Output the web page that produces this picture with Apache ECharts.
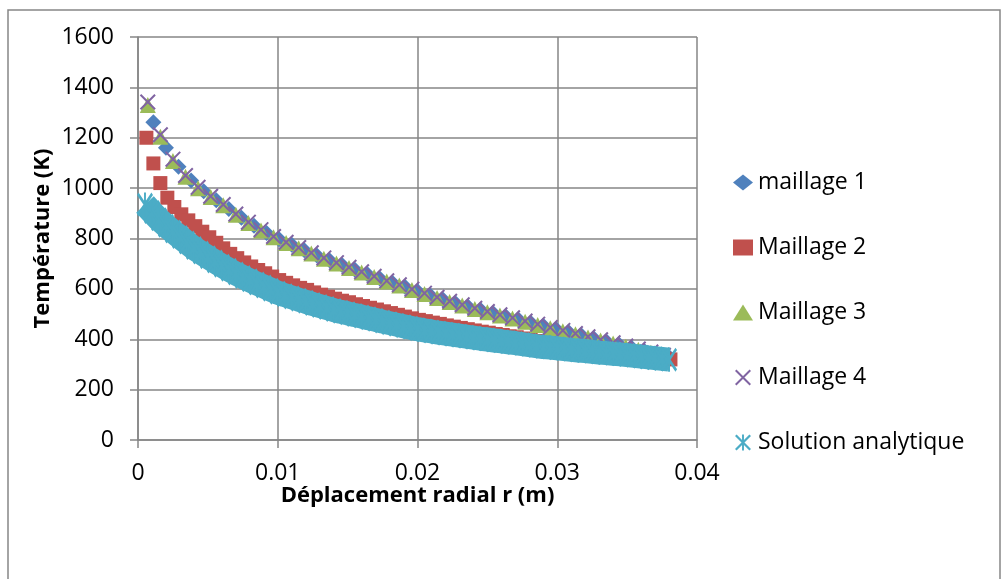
<!DOCTYPE html>
<html>
<head>
<meta charset="utf-8">
<script src="https://cdn.jsdelivr.net/npm/echarts/dist/echarts.min.js"></script>
<style>
html,body{margin:0;padding:0;background:#fff;}
#chart{width:1004px;height:579px;}
</style>
</head>
<body>
<div id="chart"></div>
<script>
// ---- data ----
const seriesNames = ['maillage 1', 'Maillage 2', 'Maillage 3', 'Maillage 4', 'Solution analytique'];
const xTickLabels = ['0', '0.01', '0.02', '0.03', '0.04'];
const yTickLabels = ['0', '200', '400', '600', '800', '1000', '1200', '1400', '1600'];

const rMaillage1 = [0.0011,0.0020,0.0029,0.0038,0.0047,0.0056,0.0065,0.0074,0.0083,0.0092,0.0101,0.0110,0.0119,0.0128,0.0137,0.0146,0.0155,0.0164,0.0173,0.0182,0.0191,0.0200,0.0209,0.0218,0.0227,0.0236,0.0245,0.0254,0.0263,0.0272,0.0281,0.0290,0.0299,0.0308,0.0317,0.0326,0.0335,0.0344,0.0353,0.0362,0.0371,0.0380];
const tMaillage1 = [1262,1160,1085,1030,988,952,917,882,851,822,797,775,753,733,714,695,677,659,641,624,608,591,575,559,544,530,517,504,491,479,466,454,441,429,417,404,392,380,367,355,342,330];

const rMaillage2 = [0.0006,0.0011,0.0016,0.0021,0.0026,0.0031,0.0036,0.0041,0.0046,0.0051,0.0056,0.0061,0.0066,0.0071,0.0076,0.0081,0.0086,0.0091,0.0096,0.0101,0.0106,0.0111,0.0116,0.0121,0.0126,0.0131,0.0136,0.0141,0.0146,0.0151,0.0156,0.0161,0.0166,0.0171,0.0176,0.0181,0.0186,0.0191,0.0196,0.0201,0.0206,0.0211,0.0216,0.0221,0.0226,0.0231,0.0236,0.0241,0.0246,0.0251,0.0256,0.0261,0.0266,0.0271,0.0276,0.0281,0.0286,0.0291,0.0296,0.0301,0.0306,0.0311,0.0316,0.0321,0.0326,0.0331,0.0336,0.0341,0.0346,0.0351,0.0356,0.0361,0.0366,0.0371,0.0376,0.0381];
const tMaillage2 = [1200,1098,1020,962,925,896,872,849,827,805,
  783,761,739,722,705,689,675,662,649,635,
  624,614,604,596,586,577,569,561,553,547,
  539,532,525,518,511,504,497,490,483,477,
  472,466,461,455,450,445,440,435,430,426,
  421,417,412,408,403,398,393,388,385,381,
  377,373,369,366,362,358,355,351,348,344,
  340,336,332,328,324,320];

const rMaillage3 = [0.0007,0.0016,0.0025,0.0034,0.0043,0.0052,0.0061,0.0070,0.0079,0.0088,0.0097,0.0106,0.0115,0.0124,0.0133,0.0142,0.0151,0.0160,0.0169,0.0178,0.0187,0.0196,0.0205,0.0214,0.0223,0.0232,0.0241,0.0250,0.0259,0.0268,0.0277,0.0286,0.0295,0.0304,0.0313,0.0322,0.0331,0.0340,0.0349,0.0358,0.0367,0.0376];
const tMaillage3 = [1330,1204,1108,1045,1000,965,932,894,862,832,805,782,761,740,720,701,683,665,647,629,613,596,580,564,548,534,520,507,494,482,469,457,444,432,420,407,395,383,370,358,346,333];

const rMaillage4 = [0.0007,0.0016,0.0025,0.0034,0.0043,0.0052,0.0061,0.0070,0.0079,0.0088,0.0097,0.0106,0.0115,0.0124,0.0133,0.0142,0.0151,0.0160,0.0169,0.0178,0.0187,0.0196,0.0205,0.0214,0.0223,0.0232,0.0241,0.0250,0.0259,0.0268,0.0277,0.0286,0.0295,0.0304,0.0313,0.0322,0.0331,0.0340,0.0349,0.0358,0.0367,0.0376];
const tMaillage4 = [1342,1212,1115,1050,1003,968,935,897,865,835,808,785,764,743,723,704,686,668,650,632,616,599,583,567,551,537,523,510,497,485,472,460,447,435,423,410,398,386,373,361,349,336];

const rAnalytique = [0.0005,0.0010,0.0015,0.0020,0.0025,0.0030,0.0035,0.0040,0.0045,0.0050,0.0055,0.0060,0.0065,0.0070,0.0075,0.0080,0.0085,0.0090,0.0095,0.0100,0.0105,0.0110,0.0115,0.0120,0.0125,0.0130,0.0135,0.0140,0.0145,0.0150,0.0155,0.0160,0.0165,0.0170,0.0175,0.0180,0.0185,0.0190,0.0195,0.0200,0.0205,0.0210,0.0215,0.0220,0.0225,0.0230,0.0235,0.0240,0.0245,0.0250,0.0255,0.0260,0.0265,0.0270,0.0275,0.0280,0.0285,0.0290,0.0295,0.0300,0.0305,0.0310,0.0315,0.0320,0.0325,0.0330,0.0335,0.0340,0.0345,0.0350,0.0355,0.0360,0.0365,0.0370,0.0375,0.0380];
const tAnalytique = [935,905,876,851,828,806,784,762,744,726,
  709,692,676,661,647,634,621,609,597,585,
  575,566,557,549,540,532,524,516,509,503,
  496,490,483,477,470,464,458,452,446,440,
  435,431,426,422,418,414,410,406,402,399,
  395,392,388,385,381,377,373,369,367,364,
  361,358,355,353,350,347,345,342,340,337,
  334,331,328,325,322,319];

// ---- styling ----
const FONT = '"Open Sans", "Liberation Sans", sans-serif';
const GRID_COLOR = '#868686';
const colors = ['#4F81BD', '#C0504D', '#9BBB59', '#8064A2', '#4BACC6'];

const X_PATH = 'path://M9,0 L100,91 L91,100 L0,9 Z M91,0 L100,9 L9,100 L0,91 Z';
const AST_PATH = 'path://M44,0 L56,0 L56,100 L44,100 Z M10,0 L100,90 L90,100 L0,10 Z M90,0 L100,10 L10,100 L0,90 Z';

const zip = (r, t) => r.map((v, i) => [v, t[i]]);

const chart = echarts.init(document.getElementById('chart'), null, {renderer: 'canvas'});

const axisCommon = {
  axisLine: {show: true, lineStyle: {color: GRID_COLOR, width: 1.5}},
  axisTick: {show: true, inside: false, length: 8, lineStyle: {color: GRID_COLOR, width: 1.5}},
  splitLine: {show: true, lineStyle: {color: GRID_COLOR, width: 1.5}},
};

chart.setOption({
  animation: false,
  backgroundColor: '#fff',
  textStyle: {fontFamily: FONT},
  graphic: [{
    type: 'rect', silent: true, z: -1,
    shape: {x: 8, y: 10, width: 992, height: 600},
    style: {fill: '#fff', stroke: GRID_COLOR, lineWidth: 1.5}
  }],
  grid: {left: 138, right: 307, top: 37, bottom: 139, containLabel: false},
  legend: {
    orient: 'vertical',
    left: 728,
    top: 166,
    itemWidth: 20,
    itemHeight: 16,
    itemGap: 42,
    selectedMode: false,
    textStyle: {fontSize: 23, color: '#000', fontFamily: FONT},
    data: [
      {name: seriesNames[0], icon: 'diamond'},
      {name: seriesNames[1], icon: 'rect'},
      {name: seriesNames[2], icon: 'triangle'},
      {name: seriesNames[3], icon: X_PATH},
      {name: seriesNames[4], icon: AST_PATH}
    ]
  },
  xAxis: Object.assign({
    type: 'value', min: 0, max: 0.04, interval: 0.01,
    name: 'Déplacement radial r (m)', nameLocation: 'middle', nameGap: 45,
    nameMoveOverlap: false,
    nameTextStyle: {fontSize: 22, fontWeight: 'bold', color: '#000', fontFamily: FONT},
    axisLabel: {fontSize: 23, color: '#000', margin: 22, fontFamily: FONT,
      formatter: (v) => xTickLabels[Math.round(v / 0.01)]}
  }, axisCommon),
  yAxis: Object.assign({
    type: 'value', min: 0, max: 1600, interval: 200,
    name: 'Température (K)', nameLocation: 'middle', nameGap: 84, nameRotate: 90,
    nameMoveOverlap: false,
    nameTextStyle: {fontSize: 22, fontWeight: 'bold', color: '#000', fontFamily: FONT},
    axisLabel: {fontSize: 23, color: '#000', margin: 24, fontFamily: FONT,
      formatter: (v) => yTickLabels[Math.round(v / 200)]}
  }, axisCommon),
  series: [
    {name: seriesNames[0], type: 'scatter', symbol: 'diamond', symbolSize: 16,
     itemStyle: {color: colors[0], opacity: 1, borderWidth: 0}, emphasis: {disabled: true},
     data: zip(rMaillage1, tMaillage1)},
    {name: seriesNames[1], type: 'scatter', symbol: 'rect', symbolSize: 14,
     itemStyle: {color: colors[1], opacity: 1, borderWidth: 0}, emphasis: {disabled: true},
     data: zip(rMaillage2, tMaillage2)},
    {name: seriesNames[2], type: 'scatter', symbol: 'triangle', symbolSize: 16,
     itemStyle: {color: colors[2], opacity: 1, borderWidth: 0}, emphasis: {disabled: true},
     data: zip(rMaillage3, tMaillage3)},
    {name: seriesNames[3], type: 'scatter', symbol: X_PATH, symbolSize: 16,
     itemStyle: {color: colors[3], opacity: 1, borderWidth: 0}, emphasis: {disabled: true},
     data: zip(rMaillage4, tMaillage4)},
    {name: seriesNames[4], type: 'line', symbol: AST_PATH, symbolSize: [16, 24],
     showSymbol: true, showAllSymbol: true,
     lineStyle: {color: colors[4], width: 24, cap: 'butt', join: 'round'},
     itemStyle: {color: colors[4], opacity: 1, borderWidth: 0}, emphasis: {disabled: true},
     data: zip(rAnalytique, tAnalytique)}
  ]
});
</script>
</body>
</html>
